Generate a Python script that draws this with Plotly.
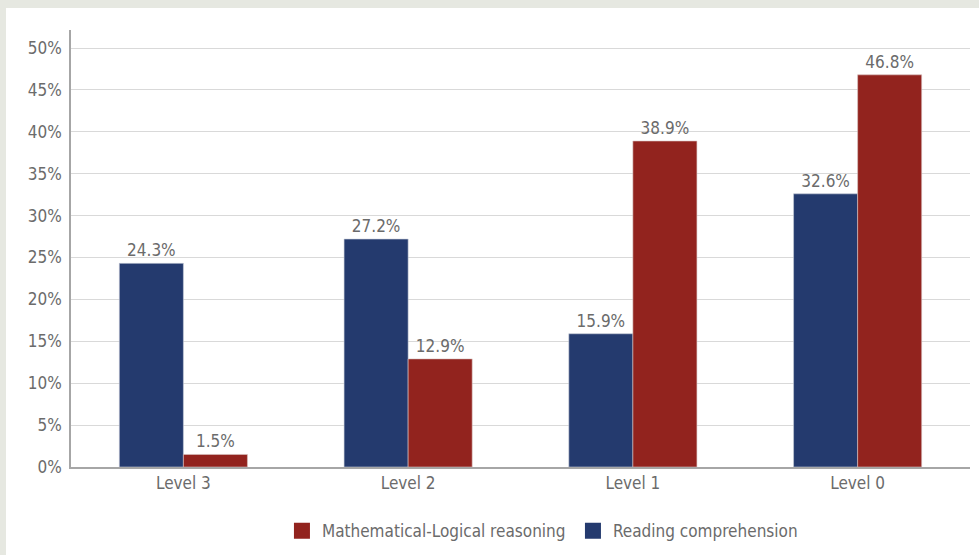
import plotly.graph_objects as go

levels = ["Level 3", "Level 2", "Level 1", "Level 0"]
reading = [24.3, 27.2, 15.9, 32.6]
math_logic = [1.5, 12.9, 38.9, 46.8]
y_ticks = [0, 5, 10, 15, 20, 25, 30, 35, 40, 45, 50]

BLUE = "#243a6e"
RED = "#92231e"
TEXT = "#6b6b6b"
FONT = "DejaVu Sans Condensed, Liberation Sans Narrow, Open Sans"
FS = 17

fig = go.Figure()
fig.add_trace(go.Bar(
    x=levels, y=reading, name="Reading comprehension", showlegend=False,
    marker=dict(color=BLUE, line=dict(color="#c8cdd8", width=0.6)),
    text=[f"{v:.1f}%" for v in reading], textposition="outside",
    textfont=dict(size=FS, color=TEXT, family=FONT), cliponaxis=False,
))
fig.add_trace(go.Bar(
    x=levels, y=math_logic, name="Mathematical-Logical reasoning", showlegend=False,
    marker=dict(color=RED, line=dict(color="#d8c4c2", width=0.6)),
    text=[f"{v:.1f}%" for v in math_logic], textposition="outside",
    textfont=dict(size=FS, color=TEXT, family=FONT), cliponaxis=False,
))
# legend keys drawn as larger squares
for name, col in [("Mathematical-Logical reasoning", RED), ("Reading comprehension", BLUE)]:
    fig.add_trace(go.Scatter(
        x=[None], y=[None], mode="markers", name=name,
        marker=dict(symbol="square", size=18, color=col),
    ))

# white card on a light grey frame
fig.add_shape(type="rect", xref="paper", yref="paper",
              x0=-0.0723, x1=1.05, y0=-0.5, y1=1.0503,
              fillcolor="white", line=dict(width=0), layer="below")

fig.update_layout(
    width=979, height=555,
    margin=dict(l=71, r=9, t=30, b=88),
    paper_bgcolor="#e6e8e1", plot_bgcolor="rgba(0,0,0,0)",
    barmode="group", bargap=0.43, bargroupgap=0,
    font=dict(family=FONT, color=TEXT, size=FS),
    showlegend=True,
    legend=dict(orientation="h", yref="container", xref="container",
                x=0.288, xanchor="left", y=0.043, yanchor="middle",
                font=dict(size=FS, color=TEXT, family=FONT),
                itemwidth=30, entrywidth=246, bgcolor="rgba(0,0,0,0)"),
)
fig.update_xaxes(showline=True, linecolor="#a6a6a6", linewidth=1.5,
                 showgrid=False, ticks="", tickfont=dict(size=FS, color=TEXT))
fig.update_yaxes(range=[0, 52.15], tickvals=y_ticks,
                 ticktext=[f"{v}%" for v in y_ticks],
                 showline=True, linecolor="#a6a6a6", linewidth=1.5,
                 showgrid=True, gridcolor="#d9d9d9", gridwidth=1.2,
                 zeroline=False, ticks="", ticklabelstandoff=4,
                 tickfont=dict(size=FS, color=TEXT))

fig.write_html("out.html")
